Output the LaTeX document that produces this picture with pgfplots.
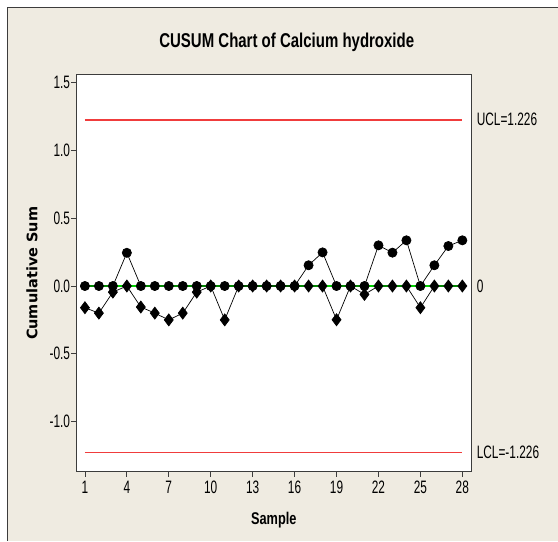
\documentclass[border=0pt]{standalone}
\usepackage{pgfplots}
\pgfplotsset{compat=1.18}
\usepackage{fontspec}
\setmainfont{Liberation Sans}[FakeStretch=0.66]
\newfontfamily\titlefont{Liberation Sans}[FakeStretch=0.75]
\newfontfamily\ylabfont{DejaVu Sans}
\definecolor{bg}{RGB}{239,235,225}
\definecolor{limred}{RGB}{240,60,60}
\definecolor{cl}{RGB}{0,210,0}
\definecolor{frm}{RGB}{60,60,60}

\pgfplotstableread{
s upper lower
1 0 -0.16
2 0 -0.20
3 0 -0.045
4 0.245 0
5 0 -0.155
6 0 -0.20
7 0 -0.25
8 0 -0.20
9 0 -0.045
10 0 0
11 0 -0.25
12 0 0
13 0 0
14 0 0
15 0 0
16 0 0
17 0.153 0
18 0.248 0
19 0 -0.249
20 0 0
21 0 -0.062
22 0.30 0
23 0.246 0
24 0.337 0
25 0 -0.16
26 0.153 0
27 0.295 0
28 0.337 0
}\cusum

\begin{document}
\begin{tikzpicture}[x=1pt,y=1pt]
\fill[white] (0,0) rectangle (558,541);
\fill[bg] (7.5,0) rectangle (558,533);
\draw[frm, line width=1pt] (7.5,0) -- (7.5,533) -- (558,533);
\useasboundingbox (0,0) rectangle (558,541);
\begin{axis}[
  at={(76.3pt,68.7pt)}, anchor=south west,
  scale only axis, width=395.4pt, height=397.3pt,
  xmin=0.379, xmax=28.64, ymin=-1.371, ymax=1.557,
  axis background/.style={fill=white},
  axis line style={frm, line width=1pt},
  xtick={1,4,...,28}, ytick={-1,-0.5,0,0.5,1,1.5},
  tick align=outside, xtick pos=bottom, ytick pos=left,
  major tick length=5pt,
  tick style={frm, line width=0.8pt},
  /pgf/number format/assume math mode=true,
  yticklabel style={inner sep=1pt, /pgf/number format/fixed, /pgf/number format/fixed zerofill, /pgf/number format/precision=1},
  ticklabel style={font=\fontsize{18}{18}\selectfont},
  xticklabel style={inner sep=1pt, yshift=-3pt},
  xlabel={Sample}, ylabel={Cumulative Sum},
  title={CUSUM Chart of Calcium hydroxide},
  every axis x label/.style={at={(axis description cs:0.5,0)}, anchor=base, yshift=-53.1pt, font=\titlefont\bfseries\fontsize{17}{17}\selectfont},
  every axis y label/.style={at={(axis description cs:-0.112,0.5)}, rotate=90, anchor=center, font=\ylabfont\bfseries\fontsize{14.5}{14.5}\selectfont},
  title style={at={(axis description cs:0.5,1)}, anchor=base, yshift=21pt, xshift=13pt, font=\titlefont\bfseries\fontsize{20}{20}\selectfont},
  clip=false,
]
\addplot[limred, line width=1.4pt, forget plot] coordinates {(1,1.226) (28,1.226)};
\addplot[limred, line width=1.4pt, forget plot] coordinates {(1,-1.226) (28,-1.226)};
\addplot[cl, line width=1.3pt, forget plot] coordinates {(1,0) (28,0)};
\addplot[black, line width=0.7pt, mark=*, mark size=4.6pt] table[x=s, y=upper] {\cusum};
\addplot[black, line width=0.7pt, mark=diamond*, mark size=6pt] table[x=s, y=lower] {\cusum};
\node[anchor=west, inner sep=0pt, xshift=5.3pt, font=\fontsize{18}{18}\selectfont] at (axis cs:28.64,1.226) {UCL=1.226};
\node[anchor=west, inner sep=0pt, xshift=5.3pt, font=\fontsize{18}{18}\selectfont] at (axis cs:28.64,0) {0};
\node[anchor=west, inner sep=0pt, xshift=5.3pt, font=\fontsize{18}{18}\selectfont] at (axis cs:28.64,-1.226) {LCL=-1.226};
\end{axis}
\end{tikzpicture}
\end{document}
